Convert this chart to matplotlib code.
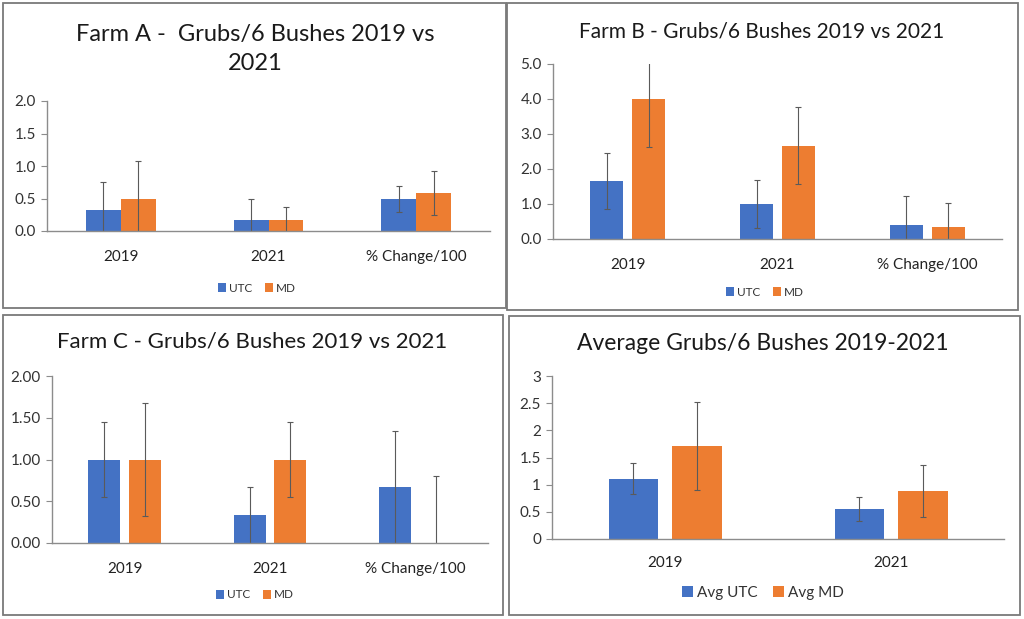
import numpy as np
import matplotlib
matplotlib.use('Agg')
import matplotlib.pyplot as plt
from matplotlib.patches import Rectangle
from matplotlib.ticker import FormatStrFormatter, FuncFormatter

plt.rcParams['font.family'] = ['Lato', 'DejaVu Sans']

W, H = 1024, 619
BLUE, ORANGE = '#4472C4', '#ED7D31'
ERR = '#5a5a5a'

# ── Data ───────────────────────────────────────────────────────────────────
farm_cats = ['2019', '2021', '% Change/100']

a_utc     = [0.33, 0.17, 0.50]
a_utc_err = [0.43, 0.33, 0.20]
a_md      = [0.50, 0.17, 0.58]
a_md_err  = [0.57, 0.20, 0.34]

b_utc     = [1.67, 1.00, 0.40]
b_utc_err = [0.80, 0.69, 0.82]
b_md      = [4.00, 2.67, 0.33]
b_md_err  = [1.37, 1.11, 0.71]

c_utc     = [1.00, 0.33, 0.67]
c_utc_err = [0.45, 0.34, 0.67]
c_md      = [1.00, 1.00, 0.00]
c_md_err  = [0.68, 0.45, 0.80]

avg_cats    = ['2019', '2021']
avg_utc     = [1.11, 0.55]
avg_utc_err = [0.29, 0.22]
avg_md      = [1.72, 0.88]
avg_md_err  = [0.81, 0.48]

fig = plt.figure(figsize=(W / 100, H / 100), dpi=100)
fig.patch.set_facecolor('white')


def px_rect(x0, y0, x1, y1):
    """pixel box (top-left origin) -> figure fraction [l, b, w, h]"""
    return [x0 / W, 1 - y1 / H, (x1 - x0) / W, (y1 - y0) / H]


def fx(x):
    return x / W


def fy(y):
    return 1 - y / H


def border(x0, y0, x1, y1):
    l, b, w, h = px_rect(x0, y0, x1, y1)
    fig.patches.append(Rectangle((l, b), w, h, transform=fig.transFigure,
                                 fill=False, edgecolor='#7a7a7a', lw=1.3))


def panel(box, cats, utc, utc_err, md, md_err, ylim, step, fmt,
          width, gap, labels, tick_y, leg_xy, leg_size, tick_size):
    ax = fig.add_axes(px_rect(*box))
    x = np.arange(len(cats))
    ekw = dict(ecolor=ERR, elinewidth=0.8, capsize=2.5, capthick=0.8)
    ax.bar(x - (width + gap) / 2, utc, width, yerr=utc_err, color=BLUE,
           error_kw=ekw, label=labels[0])
    ax.bar(x + (width + gap) / 2, md, width, yerr=md_err, color=ORANGE,
           error_kw=ekw, label=labels[1])
    ax.set_xlim(-0.5, len(cats) - 0.5)
    ax.set_ylim(0, ylim)
    ax.set_yticks(np.arange(0, ylim + step / 2, step))
    ax.yaxis.set_major_formatter(fmt)
    ax.set_xticks(x)
    ax.set_xticklabels(cats)
    for s in ['top', 'right']:
        ax.spines[s].set_visible(False)
    for s in ['left', 'bottom']:
        ax.spines[s].set_color('#8c8c8c')
        ax.spines[s].set_linewidth(1.0)
    ax.tick_params(axis='x', length=0, labelsize=tick_size,
                   labelcolor='#222222', pad=tick_y)
    ax.tick_params(axis='y', length=4, color='#8c8c8c', labelsize=tick_size,
                   labelcolor='#333333', pad=4)
    fig.legend(*ax.get_legend_handles_labels(), loc='center',
               bbox_to_anchor=(fx(leg_xy[0]), fy(leg_xy[1])),
               ncol=2, frameon=False, fontsize=leg_size,
               handlelength=0.7, handleheight=0.7, handletextpad=0.3,
               columnspacing=1.0, labelcolor='#333333')
    return ax


one_dec = FormatStrFormatter('%.1f')
two_dec = FormatStrFormatter('%.2f')
general = FuncFormatter(lambda v, p: ('%g' % v))

# Farm A
border(3, 3, 506, 308)
panel((47, 101, 490, 231), farm_cats, a_utc, a_utc_err, a_md, a_md_err,
      2.0, 0.5, one_dec, 0.237, 0.0, ('UTC', 'MD'), 14, (257, 288), 8.5, 11)
fig.text(fx(255), fy(49), 'Farm A -  Grubs/6 Bushes 2019 vs\n2021',
         ha='center', va='center', fontsize=17, color='#1a1a1a',
         linespacing=1.45)

# Farm B
border(507, 3, 1018, 310)
panel((553, 64, 1002, 239), farm_cats, b_utc, b_utc_err, b_md, b_md_err,
      5.0, 1.0, one_dec, 0.22, 0.06, ('UTC', 'MD'), 14, (765, 292), 8.5, 11)
fig.text(fx(762), fy(31), 'Farm B - Grubs/6 Bushes 2019 vs 2021',
         ha='center', va='center', fontsize=15, color='#1a1a1a')

# Farm C
border(3, 315, 503, 615)
panel((52, 376, 488, 543), farm_cats, c_utc, c_utc_err, c_md, c_md_err,
      2.0, 0.5, two_dec, 0.22, 0.06, ('UTC', 'MD'), 14, (255, 595), 8.5, 11)
fig.text(fx(252), fy(342), 'Farm C - Grubs/6 Bushes 2019 vs 2021',
         ha='center', va='center', fontsize=16, color='#1a1a1a')

# Average
border(509, 316, 1020, 615)
panel((552, 376, 1004, 539), avg_cats, avg_utc, avg_utc_err, avg_md,
      avg_md_err, 3.0, 0.5, general, 0.22, 0.06, ('Avg UTC', 'Avg MD'), 12,
      (763, 593), 11, 11)
fig.text(fx(763), fy(343), 'Average Grubs/6 Bushes 2019-2021',
         ha='center', va='center', fontsize=16.5, color='#1a1a1a')

fig.savefig('out.png', dpi=100)
